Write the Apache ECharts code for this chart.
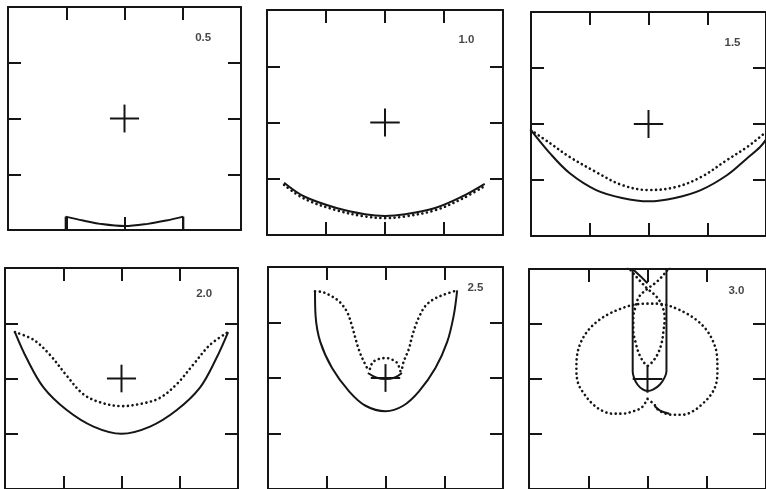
<!DOCTYPE html>
<html>
<head>
<meta charset="utf-8">
<title>panels</title>
<script src="https://cdn.jsdelivr.net/npm/echarts@6/dist/echarts.min.js"></script>
<style>
html, body { margin: 0; padding: 0; background: #fff; }
#main { width: 766px; height: 489px; }
</style>
</head>
<body>
<div id="main"></div>
<script>
// panel labels
var panelNames = ['0.5', '1.0', '1.5', '2.0', '2.5', '3.0'];
// every panel runs -2..2 on both axes, ticks every unit
var axisMin = -2, axisMax = 2, tickStep = 1;

// centre cross
var crossArm = [[-0.25, 0], [0.25, 0]];
var crossLeg = [[0, -0.25], [0, 0.25]];

// 0.5
var p1Arc = [[-1.01, -1.76], [-0.71, -1.83], [-0.42, -1.89], [0, -1.93], [0.40, -1.89], [0.72, -1.83], [1.01, -1.76]];
var p1PostL = [[-1.01, -2.05], [-1.01, -1.76]];
var p1PostR = [[1.01, -2.05], [1.01, -1.76]];
// 1.0
var p2Solid = [[-1.71, -1.07], [-1.36, -1.32], [-0.79, -1.53], [-0.34, -1.63], [0, -1.66], [0.34, -1.63], [0.85, -1.52], [1.30, -1.32], [1.69, -1.09]];
var p2Dotted = [[-1.71, -1.11], [-1.36, -1.36], [-0.79, -1.57], [-0.34, -1.67], [0, -1.70], [0.34, -1.67], [0.85, -1.56], [1.30, -1.36], [1.69, -1.13]];
// 1.5
var p3Solid = [[-2, -0.11], [-1.68, -0.52], [-1.34, -0.88], [-0.89, -1.18], [-0.45, -1.32], [0, -1.38], [0.45, -1.32], [0.89, -1.18], [1.34, -0.91], [1.68, -0.61], [1.90, -0.41], [2.0, -0.28]];
var p3Dotted = [[-2, -0.11], [-1.68, -0.34], [-1.34, -0.59], [-0.89, -0.86], [-0.45, -1.09], [0, -1.18], [0.45, -1.13], [0.89, -0.95], [1.34, -0.64], [1.68, -0.41], [1.90, -0.23], [2.0, -0.14]];
// 2.0
var p4Solid = [[-1.83, 0.84], [-1.63, 0.37], [-1.34, -0.16], [-0.94, -0.57], [-0.48, -0.87], [0, -1.0], [0.49, -0.87], [0.95, -0.57], [1.35, -0.16], [1.63, 0.37], [1.83, 0.84]];
var p4Dotted = [[-1.83, 0.84], [-1.51, 0.70], [-1.23, 0.43], [-0.94, 0.05], [-0.66, -0.28], [-0.37, -0.43], [0, -0.50], [0.37, -0.45], [0.66, -0.35], [0.95, -0.10], [1.23, 0.25], [1.52, 0.61], [1.83, 0.84]];
// 2.5
var p5Solid = [[-1.20, 1.56], [-1.19, 1.12], [-1.11, 0.65], [-0.91, 0.18], [-0.62, -0.24], [-0.34, -0.50], [0, -0.60], [0.30, -0.50], [0.57, -0.24], [0.85, 0.18], [1.05, 0.65], [1.16, 1.12], [1.22, 1.58]];
var p5Dotted = [[-1.20, 1.56], [-1.08, 1.55], [-0.91, 1.47], [-0.77, 1.36], [-0.65, 1.18], [-0.57, 0.94], [-0.51, 0.71], [-0.45, 0.50], [-0.37, 0.30], [-0.28, 0.15],
  [-0.22, 0.28], [-0.12, 0.34], [0, 0.36], [0.09, 0.34], [0.20, 0.27], [0.26, 0.12],
  [0.31, 0.30], [0.40, 0.53], [0.45, 0.74], [0.51, 0.94], [0.58, 1.12], [0.68, 1.30], [0.82, 1.42], [0.99, 1.50], [1.22, 1.58]];
var p5Cap = [[-0.30, 0.09], [-0.16, 0.01], [0, -0.02], [0.16, 0.01], [0.28, 0.09]];
// 3.0
var p6Tube = [[-0.25, 2.05], [-0.25, 0.14], [-0.23, 0.03], [-0.17, -0.10], [-0.08, -0.19], [0, -0.22], [0.10, -0.19], [0.21, -0.10], [0.29, 0.03], [0.32, 0.14], [0.32, 2.05]];
var p6Stroke = [[-0.25, 2.0], [-0.12, 1.87], [0, 1.74]];
var p6Heart = [[0, -0.36], [-0.10, -0.52], [-0.25, -0.59], [-0.42, -0.63], [-0.59, -0.63], [-0.76, -0.58], [-0.93, -0.45], [-1.07, -0.27], [-1.17, -0.08], [-1.20, 0.17],
  [-1.19, 0.42], [-1.12, 0.68], [-0.99, 0.90], [-0.82, 1.07], [-0.64, 1.19], [-0.47, 1.27], [-0.31, 1.33], [-0.17, 1.36], [0, 1.37], [0.17, 1.37],
  [0.34, 1.34], [0.49, 1.28], [0.66, 1.19], [0.83, 1.07], [0.99, 0.90], [1.10, 0.70], [1.17, 0.45], [1.18, 0.17], [1.16, -0.08], [1.08, -0.27],
  [0.93, -0.45], [0.76, -0.59], [0.59, -0.65], [0.42, -0.65], [0.20, -0.58], [0.12, -0.47], [0, -0.36]];
var p6Loop = [[0.42, 2.12], [0.32, 1.96], [0.17, 1.78], [0, 1.64], [-0.14, 1.50], [-0.20, 1.32], [-0.24, 1.11], [-0.24, 0.88], [-0.20, 0.66], [-0.14, 0.45], [-0.06, 0.30], [0, 0.24],
  [0.08, 0.31], [0.17, 0.45], [0.24, 0.66], [0.27, 0.88], [0.29, 1.11], [0.25, 1.32], [0.15, 1.50], [0, 1.64], [-0.14, 1.80], [-0.27, 1.96], [-0.36, 2.08]];
var p6Arc = [[0.12, -0.49], [0.22, -0.58], [0.37, -0.63]];

var ink = '#151515';

// boxes as they sit on the page (the scan is a bit uneven)
var panels = [
  { left: 8,   top: 7,   width: 233, height: 223, label: [1.35, 1.45] },
  { left: 267, top: 10,  width: 236, height: 225, label: [1.38, 1.47] },
  { left: 531, top: 12,  width: 238, height: 224, label: [1.43, 1.45] },
  { left: 5,   top: 268, width: 233, height: 226, label: [1.42, 1.53] },
  { left: 268, top: 267, width: 235, height: 226, label: [1.53, 1.62] },
  { left: 529, top: 269, width: 237, height: 226, label: [1.50, 1.60] }
];

var curves = [
  [0, p1Arc, false, true], [0, p1PostL, false, false], [0, p1PostR, false, false],
  [1, p2Solid, false, true], [1, p2Dotted, true, true],
  [2, p3Solid, false, true], [2, p3Dotted, true, true],
  [3, p4Solid, false, true], [3, p4Dotted, true, true],
  [4, p5Solid, false, true], [4, p5Dotted, true, true], [4, p5Cap, false, true],
  [5, p6Tube, false, true], [5, p6Stroke, false, false], [5, p6Heart, true, true],
  [5, p6Loop, true, true], [5, p6Arc, false, true]
];

function axis(i, pos) {
  return {
    type: 'value', gridIndex: i, position: pos,
    min: axisMin, max: axisMax, interval: tickStep,
    axisLine: { show: true, onZero: false, lineStyle: { color: ink, width: 2 } },
    axisTick: { show: true, inside: true, length: 13, lineStyle: { color: ink, width: 2 } },
    axisLabel: { show: false },
    splitLine: { show: false }
  };
}

function line(i, data, dotted, smooth) {
  return {
    type: 'line', xAxisIndex: 2 * i, yAxisIndex: 2 * i,
    data: data, showSymbol: false, symbol: 'none', smooth: smooth ? 0.35 : false,
    silent: true, clip: true,
    lineStyle: dotted
      ? { color: ink, width: 2.6, type: [0.1, 4.6], cap: 'round' }
      : { color: ink, width: 2 }
  };
}

var grid = [], xAxis = [], yAxis = [], series = [];
panels.forEach(function (p, i) {
  grid.push({ left: p.left, top: p.top, width: p.width, height: p.height });
  xAxis.push(axis(i, 'bottom'), axis(i, 'top'));
  yAxis.push(axis(i, 'left'), axis(i, 'right'));
  series.push(line(i, crossArm, false, false), line(i, crossLeg, false, false));
  series.push({
    type: 'scatter', xAxisIndex: 2 * i, yAxisIndex: 2 * i, silent: true,
    symbolSize: 1, itemStyle: { color: 'rgba(0,0,0,0)' },
    data: [{ name: panelNames[i], value: p.label }],
    label: {
      show: true, position: 'inside', formatter: '{b}',
      color: ink, fontSize: 11.5, fontWeight: 'bold', fontFamily: 'Liberation Sans'
    }
  });
});
curves.forEach(function (c) {
  series.push(line(c[0], c[1], c[2], c[3]));
});

var chart = echarts.init(document.getElementById('main'));
chart.setOption({
  animation: false,
  backgroundColor: '#fff',
  grid: grid,
  xAxis: xAxis,
  yAxis: yAxis,
  series: series
});
</script>
</body>
</html>
